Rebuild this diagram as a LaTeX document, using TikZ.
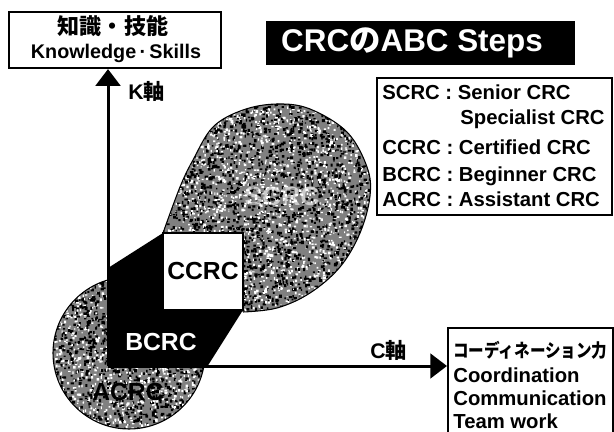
\documentclass[tikz,border=0pt]{standalone}
\usepackage{fontspec}
\setmainfont{Liberation Sans}
\newfontfamily\jp{Noto Sans CJK JP}
\usetikzlibrary{arrows.meta}
\begin{document}
\begin{tikzpicture}[x=0.5669pt,y=-0.5669pt,
  lbl/.style={font=\fontsize{11.5}{14}\selectfont\bfseries, anchor=base west, inner sep=0pt},
  clbl/.style={font=\fontsize{11.5}{14}\selectfont\bfseries, anchor=base west, inner sep=0pt},
  axis/.style={line width=1.7pt, -{Triangle[length=9.5pt,width=14pt]}},
  box/.style={draw, line width=1.3pt, inner sep=0pt},
  tag/.style={font=\fontsize{14}{16}\selectfont\bfseries, inner sep=0pt},
  stip/.style={black!50}]
\useasboundingbox (0,0) rectangle (614,432);
\fill[white] (0,0) rectangle (614,432);
\pgfmathsetseed{12}
% ACRC blob
\begin{scope}
 \clip (129,353) circle (76);
 \fill[stip] (50,275) rectangle (210,432);
 \foreach \j in {1,...,5}{
  \fill[black] \foreach \i in {1,...,220} {({53+152*rnd},{277+152*rnd}) rectangle ++({1.2+2.2*rnd},{1.2+2.2*rnd})};
  \fill[white] \foreach \i in {1,...,200} {({53+152*rnd},{277+152*rnd}) rectangle ++({1+1.8*rnd},{1+1.8*rnd})};
 }
\end{scope}
\draw[line width=0.6pt] (129,353) circle (76);
% SCRC blob
\begin{scope}
 \clip plot[smooth,tension=0.6] coordinates {(163,233) (180,187) (193,160) (213,127) (243,110) (277,104) (310,109) (347,132) (367,167) (370,196) (360,233) (340,267) (310,293) (277,308) (243,312)} -- (163,312) -- cycle;
 \fill[stip] (160,100) rectangle (375,315);
 \foreach \j in {1,...,10}{
  \fill[black] \foreach \i in {1,...,220} {({160+215*rnd},{100+215*rnd}) rectangle ++({1.2+2.2*rnd},{1.2+2.2*rnd})};
  \fill[white] \foreach \i in {1,...,200} {({160+215*rnd},{100+215*rnd}) rectangle ++({1+1.8*rnd},{1+1.8*rnd})};
 }
\end{scope}
\draw[line width=0.6pt] plot[smooth,tension=0.6] coordinates {(163,233) (180,187) (193,160) (213,127) (243,110) (277,104) (310,109) (347,132) (367,167) (370,196) (360,233) (340,267) (310,293) (277,308) (243,312)};
\node[text=white, opacity=0.6, font=\fontsize{15}{18}\selectfont\bfseries, inner sep=0pt] (scrc) at (282,196) {SCRC};
% BCRC polygon
\fill[black] (108,268) -- (163,233) -- (163,310) -- (243,310) -- (207,367) -- (108,367) -- cycle;
\node[box, fill=white, line width=0.8pt, minimum width=45.4pt, minimum height=43.6pt, tag] (ccrc) at (203,271.5) {CCRC};
\node[tag, text=white] (bcrc) at (161,342) {BCRC};
\node[tag, text=black] (acrc) at (128,392) {ACRC};
% boxes
\coordinate (o) at (108,366);
\node[box, minimum width=120.2pt, minimum height=31.7pt] (kbox) at (115,40) {};
\node[font=\jp\fontsize{12.5}{14}\selectfont\bfseries, anchor=base, inner sep=0pt] (k1) at (113,35) {知識・技能};
\node[font=\fontsize{11.2}{12}\selectfont\bfseries, anchor=base, inner sep=0pt] (k2) at (116,59) {Knowledge\,·\,Skills};
\node[box, minimum width=93.5pt, minimum height=68pt, anchor=north west] (cbox) at (447,327) {};
\node[clbl, font=\jp\fontsize{10.5}{12}\selectfont\bfseries] (c1) at (453,357) {\scalebox{0.84}[1]{コーディネーション力}};
\node[clbl] (c2) at (453,382) {Coordination};
\node[clbl] (c3) at (453,405) {Communication};
\node[clbl] (c4) at (453,428) {Team work};
% axes
\draw[axis] (o) -- (o |- kbox.south);
\draw[axis] (o) -- (o -| cbox.west);
\node[font=\fontsize{12}{14}\selectfont\bfseries, anchor=base west, inner sep=0pt] (klab) at (128,100) {K{\jp 軸}};
\node[font=\fontsize{12}{14}\selectfont\bfseries, anchor=base west, inner sep=0pt] (clab) at (370,358) {C{\jp 軸}};
% title
\node[fill=black, minimum width=175.2pt, minimum height=25pt, inner sep=0pt] (titlebox) at (420.5,43) {};
\node[text=white, inner sep=0pt, font=\fontsize{17.8}{20}\selectfont\bfseries] (title) at (412,43) {CRC{\jp の}ABC Steps};
% legend
\node[box, line width=1.1pt, minimum width=133.2pt, minimum height=77.7pt] (legend) at (494.5,146.5) {};
\node[lbl] (l1) at (382,100) {SCRC : Senior CRC};
\node[lbl] (l2) at (460,125) {Specialist CRC};
\node[lbl] (l3) at (382,155) {CCRC : Certified CRC};
\node[lbl] (l4) at (382,182) {BCRC : Beginner CRC};
\node[lbl] (l5) at (382,207) {ACRC : Assistant CRC};
\end{tikzpicture}
\end{document}
